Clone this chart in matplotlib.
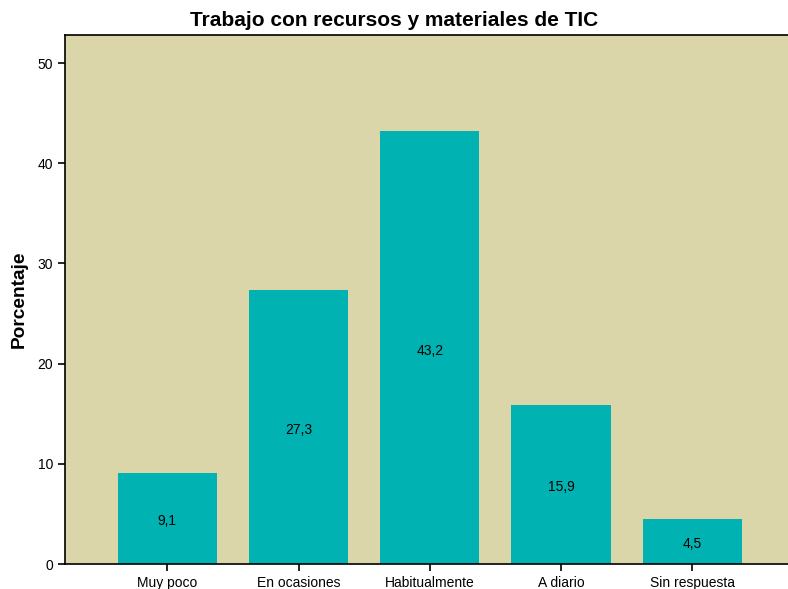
import matplotlib
matplotlib.use("Agg")
import matplotlib.pyplot as plt

# datos del grafico
categorias = ["Muy poco", "En ocasiones", "Habitualmente", "A diario", "Sin respuesta"]
porcentajes = [9.1, 27.3, 43.2, 15.9, 4.5]
yticks = [0, 10, 20, 30, 40, 50]

plt.rcParams['font.family'] = ['Liberation Sans', 'DejaVu Sans']

fig = plt.figure(figsize=(7.88, 5.89), dpi=100)
ax = fig.add_axes([0.0825, 0.0424, 0.9175, 0.8982])
ax.set_facecolor("#DBD6A9")

pos = list(range(len(categorias)))
bars = ax.bar(pos, porcentajes, width=0.755, color="#00B2B2", zorder=2)

for b, v in zip(bars, porcentajes):
    ax.text(b.get_x() + b.get_width() / 2, v / 2 - 0.3, f"{v:.1f}".replace(".", ","),
            ha="center", va="center", fontsize=10, color="black", zorder=3)

ax.set_xlim(-0.78, 4.73)
ax.set_ylim(0, 52.8)
ax.set_xticks(pos)
ax.set_xticklabels(categorias, fontsize=10)
ax.set_yticks(yticks)
ax.set_yticklabels([str(t) for t in yticks], fontsize=10)
ax.tick_params(axis="both", direction="out", length=5, width=1.2, color="black")

for s in ["left", "top", "bottom"]:
    ax.spines[s].set_linewidth(1.2)
ax.spines["right"].set_visible(False)

ax.set_ylabel("Porcentaje", fontsize=13.8, fontweight="bold", labelpad=7)
fig.text(0.5, 0.966, "Trabajo con recursos y materiales de TIC", fontsize=15,
         fontweight="bold", ha="center", va="center")

fig.savefig("out.png", dpi=100)
